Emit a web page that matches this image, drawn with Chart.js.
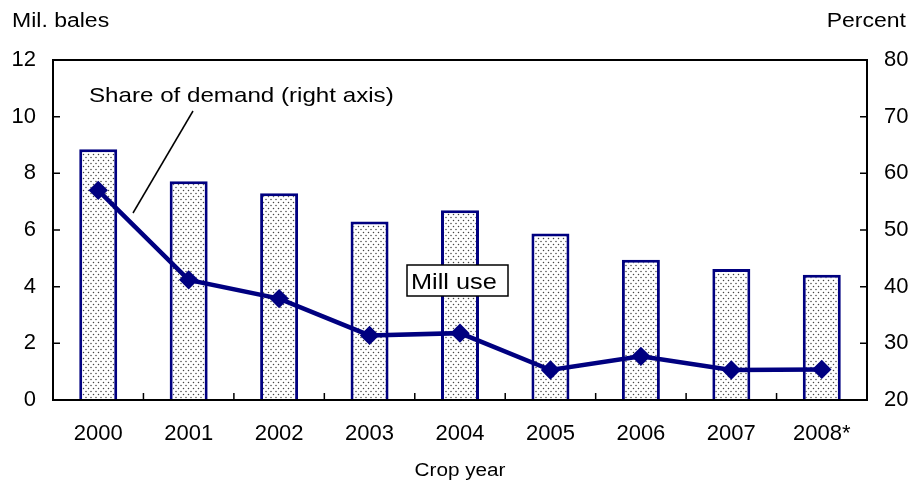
<!DOCTYPE html>
<html>
<head>
<meta charset="utf-8">
<script src="https://cdn.jsdelivr.net/npm/chart.js@4"></script>
<style>
  html, body { margin: 0; padding: 0; background: #fff; }
  #wrap { width: 914px; height: 480px; }
</style>
</head>
<body>
<div id="wrap"><canvas id="chart"></canvas></div>
<script>
const years = ['2000', '2001', '2002', '2003', '2004', '2005', '2006', '2007', '2008*'];
const millUse = [8.85, 7.72, 7.3, 6.3, 6.7, 5.88, 4.95, 4.62, 4.42];
const shareOfDemand = [57.0, 41.2, 37.9, 31.4, 31.8, 25.3, 27.7, 25.3, 25.4];
const leftTicks = [0, 2, 4, 6, 8, 10, 12];
const rightTicks = [20, 30, 40, 50, 60, 70, 80];

const NAVY = '#000080';
const FONT = '"Liberation Sans", Arial, sans-serif';

// dotted fill for the bars
function dotPattern() {
  const c = document.createElement('canvas');
  c.width = 5; c.height = 6;
  const g = c.getContext('2d');
  g.fillStyle = '#fff';
  g.fillRect(0, 0, 5, 6);
  g.fillStyle = '#444';
  g.beginPath();
  g.arc(1, 1.5, 0.75, 0, Math.PI * 2);
  g.arc(3.5, 4.5, 0.75, 0, Math.PI * 2);
  g.fill();
  return g.createPattern(c, 'repeat');
}

function wideText(ctx, txt, x, y, align) {
  const sx = 1.15;
  const w = ctx.measureText(txt).width * sx;
  let left = x;
  if (align === 'right') left = x - w;
  if (align === 'center') left = x - w / 2;
  ctx.save();
  ctx.translate(left, y);
  ctx.scale(sx, 1);
  ctx.textAlign = 'left';
  ctx.fillText(txt, 0, 0);
  ctx.restore();
}

const decorations = {
  id: 'decorations',
  afterDatasetsDraw(chart) {
    const { ctx, chartArea: a, scales } = chart;
    ctx.save();
    // frame
    ctx.strokeStyle = '#000';
    ctx.lineWidth = 2;
    ctx.strokeRect(a.left, a.top, a.right - a.left, a.bottom - a.top);

    // inward ticks
    ctx.lineWidth = 1.5;
    ctx.beginPath();
    leftTicks.forEach(v => {
      const y = scales.y.getPixelForValue(v);
      ctx.moveTo(a.left, y); ctx.lineTo(a.left + 7, y);
    });
    rightTicks.forEach(v => {
      const y = scales.y1.getPixelForValue(v);
      ctx.moveTo(a.right, y); ctx.lineTo(a.right - 7, y);
    });
    for (let i = 1; i < years.length; i++) {
      const x = (scales.x.getPixelForValue(i - 1) + scales.x.getPixelForValue(i)) / 2;
      ctx.moveTo(x, a.bottom); ctx.lineTo(x, a.bottom - 7);
    }
    ctx.stroke();

    // text
    ctx.fillStyle = '#000';
    ctx.textBaseline = 'alphabetic';
    ctx.font = '20px ' + FONT;
    wideText(ctx, 'Mil. bales', 12, 27, 'left');
    wideText(ctx, 'Percent', 906, 27, 'right');
    ctx.font = '18px ' + FONT;
    wideText(ctx, 'Crop year', (a.left + a.right) / 2, 476, 'center');

    ctx.font = '21px ' + FONT;
    wideText(ctx, 'Share of demand (right axis)', 89, 102, 'left');
    ctx.lineWidth = 1.5;
    ctx.beginPath();
    ctx.moveTo(193, 111);
    ctx.lineTo(133, 213);
    ctx.stroke();

    // Mill use label box
    ctx.fillStyle = '#fff';
    ctx.fillRect(407, 265, 101, 31);
    ctx.lineWidth = 1.5;
    ctx.strokeRect(407, 265, 101, 31);
    ctx.fillStyle = '#000';
    ctx.font = '22px ' + FONT;
    wideText(ctx, 'Mill use', 411, 289, 'left');
    ctx.restore();
  }
};

new Chart(document.getElementById('chart'), {
  data: {
    labels: years,
    datasets: [
      {
        type: 'line',
        label: 'Share of demand (right axis)',
        data: shareOfDemand,
        yAxisID: 'y1',
        order: 1,
        borderColor: NAVY,
        backgroundColor: NAVY,
        borderWidth: 4.5,
        tension: 0,
        pointStyle: 'rectRot',
        pointRadius: 6.5,
        pointBackgroundColor: NAVY,
        pointBorderColor: NAVY
      },
      {
        type: 'bar',
        label: 'Mill use',
        data: millUse,
        yAxisID: 'y',
        order: 2,
        backgroundColor: dotPattern(),
        borderColor: NAVY,
        borderWidth: 3,
        barPercentage: 0.42,
        categoryPercentage: 1
      }
    ]
  },
  options: {
    responsive: true,
    maintainAspectRatio: false,
    animation: false,
    layout: { padding: { top: 60, left: 0, right: 0, bottom: 0 } },
    plugins: {
      legend: { display: false },
      tooltip: { enabled: false }
    },
    scales: {
      x: {
        grid: { display: false, drawTicks: false },
        border: { display: false },
        ticks: { color: '#000', font: { family: FONT, size: 22 }, padding: 21, maxRotation: 0 },
        afterFit: s => { s.height = 80; }
      },
      y: {
        position: 'left',
        min: 0, max: 12,
        grid: { display: false, drawTicks: false },
        border: { display: false },
        ticks: { stepSize: 2, color: '#000', font: { family: FONT, size: 22 }, padding: 17 },
        afterFit: s => { s.width = 53; }
      },
      y1: {
        position: 'right',
        min: 20, max: 80,
        grid: { display: false, drawTicks: false },
        border: { display: false },
        ticks: { stepSize: 10, color: '#000', font: { family: FONT, size: 22 }, padding: 17 },
        afterFit: s => { s.width = 47; }
      }
    }
  },
  plugins: [decorations]
});
</script>
</body>
</html>
